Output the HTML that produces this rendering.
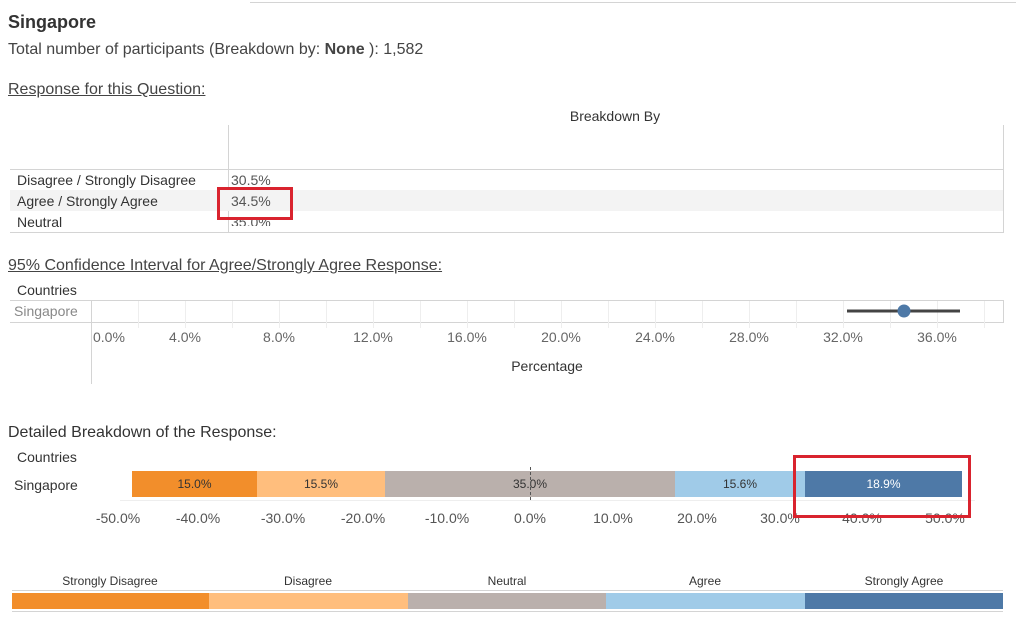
<!DOCTYPE html>
<html><head><meta charset="utf-8"><style>
body{margin:0;width:1016px;height:620px;background:#fff;position:relative;overflow:hidden;font-family:"Liberation Sans",sans-serif;color:#333}
.a{position:absolute;white-space:nowrap}
.l{position:absolute;background:#d4d4d4}
.c{transform:translateX(-50%)}
.tk{font-size:14px;color:#666;top:329px}
.bt{font-size:14px;color:#555;top:510px}
.seg{position:absolute;top:471px;height:26px;font-size:12px;text-align:center;line-height:26px;color:#333}
.lg{position:absolute;top:593px;height:16px}
.ll{font-size:12px;top:574px;color:#333}
</style></head><body>
<div class="l" style="left:250px;top:2px;width:766px;height:1px"></div>
<div class="a" style="left:8px;top:12px;font-size:18px;font-weight:bold;color:#333">Singapore</div>
<div class="a" style="left:8px;top:41px;font-size:16px;color:#444">Total number of participants (Breakdown by: <b>None</b> ): 1,582</div>
<div class="a" style="left:8px;top:81px;font-size:16px;color:#444;text-decoration:underline">Response for this Question:</div>
<div class="a c" style="left:615px;top:108px;font-size:14px">Breakdown By</div>
<div class="l" style="left:228px;top:125px;width:1px;height:108px"></div>
<div class="l" style="left:1003px;top:125px;width:1px;height:108px"></div>
<div class="l" style="left:10px;top:169px;width:994px;height:1px"></div>
<div class="l" style="left:10px;top:232px;width:994px;height:1px"></div>
<div style="position:absolute;left:10px;top:190px;width:993px;height:21px;background:#f3f3f3"></div>
<div class="a" style="left:17px;top:172px;font-size:14px">Disagree / Strongly Disagree</div>
<div class="a" style="left:17px;top:193px;font-size:14px">Agree / Strongly Agree</div>
<div class="a" style="left:17px;top:214px;font-size:14px">Neutral</div>
<div class="a" style="left:231px;top:172px;font-size:14px;color:#555">30.5%</div>
<div class="a" style="left:231px;top:193px;font-size:14px;color:#555">34.5%</div>
<div class="a" style="left:231px;top:214px;font-size:14px;color:#555;height:12px;overflow:hidden;line-height:16px">35.0%</div>
<div style="position:absolute;left:217px;top:187px;width:70px;height:27px;border:3px solid #d9232e"></div>
<div class="a" style="left:8px;top:257px;font-size:16px;color:#444;text-decoration:underline">95% Confidence Interval for Agree/Strongly Agree Response:</div>
<div class="a" style="left:17px;top:282px;font-size:14px">Countries</div>
<div class="l" style="left:10px;top:300px;width:994px;height:1px"></div>
<div class="l" style="left:10px;top:322px;width:994px;height:1px"></div>
<div class="l" style="left:1003px;top:300px;width:1px;height:23px"></div>
<div class="l" style="left:91px;top:300px;width:1px;height:84px"></div>
<div class="a" style="left:14px;top:303px;font-size:14px;color:#888">Singapore</div>
<svg style="position:absolute;left:0;top:0" width="1016" height="620">
<g stroke="#eee" stroke-width="1">
<line x1="138.5" y1="301" x2="138.5" y2="328"/><line x1="185.5" y1="301" x2="185.5" y2="328"/><line x1="232.5" y1="301" x2="232.5" y2="328"/><line x1="279.5" y1="301" x2="279.5" y2="328"/><line x1="326.5" y1="301" x2="326.5" y2="328"/><line x1="373.5" y1="301" x2="373.5" y2="328"/><line x1="420.5" y1="301" x2="420.5" y2="328"/><line x1="467.5" y1="301" x2="467.5" y2="328"/><line x1="514.5" y1="301" x2="514.5" y2="328"/><line x1="561.5" y1="301" x2="561.5" y2="328"/><line x1="608.5" y1="301" x2="608.5" y2="328"/><line x1="655.5" y1="301" x2="655.5" y2="328"/><line x1="702.5" y1="301" x2="702.5" y2="328"/><line x1="749.5" y1="301" x2="749.5" y2="328"/><line x1="796.5" y1="301" x2="796.5" y2="328"/><line x1="843.5" y1="301" x2="843.5" y2="328"/><line x1="890.5" y1="301" x2="890.5" y2="328"/><line x1="937.5" y1="301" x2="937.5" y2="328"/><line x1="984.5" y1="301" x2="984.5" y2="328"/>
</g>
<line x1="847" y1="311" x2="960" y2="311" stroke="#444" stroke-width="3"/>
<circle cx="904" cy="311" r="6.5" fill="#4e79a7"/>
<line x1="120" y1="500.5" x2="975" y2="500.5" stroke="#eee"/>
<line x1="530.5" y1="467" x2="530.5" y2="501" stroke="#555" stroke-dasharray="3,3"/>
</svg>
<div class="a tk" style="left:93px">0.0%</div>
<div class="a tk c" style="left:185px">4.0%</div>
<div class="a tk c" style="left:279px">8.0%</div>
<div class="a tk c" style="left:373px">12.0%</div>
<div class="a tk c" style="left:467px">16.0%</div>
<div class="a tk c" style="left:561px">20.0%</div>
<div class="a tk c" style="left:655px">24.0%</div>
<div class="a tk c" style="left:749px">28.0%</div>
<div class="a tk c" style="left:843px">32.0%</div>
<div class="a tk c" style="left:937px">36.0%</div>
<div class="a c" style="left:547px;top:358px;font-size:14px">Percentage</div>
<div class="a" style="left:8px;top:424px;font-size:16px;color:#333">Detailed Breakdown of the Response:</div>
<div class="a" style="left:17px;top:449px;font-size:14px">Countries</div>
<div class="a" style="left:14px;top:477px;font-size:14px">Singapore</div>
<div class="seg" style="left:132px;width:125px;background:#f28e2b">15.0%</div>
<div class="seg" style="left:257px;width:128px;background:#ffbe7d">15.5%</div>
<div class="seg" style="left:385px;width:290px;background:#bab0ac;background:rgba(186,176,172,1)">35.0%</div>
<div class="seg" style="left:675px;width:130px;background:#a0cbe8">15.6%</div>
<div class="seg" style="left:805px;width:157px;background:#4e79a7;color:#fff">18.9%</div>
<div style="position:absolute;left:530px;top:467px;width:0;height:33px;border-left:1px dashed #555"></div>
<div class="a bt c" style="left:118px">-50.0%</div>
<div class="a bt c" style="left:198px">-40.0%</div>
<div class="a bt c" style="left:283px">-30.0%</div>
<div class="a bt c" style="left:363px">-20.0%</div>
<div class="a bt c" style="left:447px">-10.0%</div>
<div class="a bt c" style="left:530px">0.0%</div>
<div class="a bt c" style="left:613px">10.0%</div>
<div class="a bt c" style="left:697px">20.0%</div>
<div class="a bt c" style="left:780px">30.0%</div>
<div class="a bt c" style="left:862px">40.0%</div>
<div class="a bt c" style="left:945px">50.0%</div>
<div style="position:absolute;left:793px;top:455px;width:172px;height:57px;border:3px solid #d9232e"></div>
<div class="a ll c" style="left:110px">Strongly Disagree</div>
<div class="a ll c" style="left:308px">Disagree</div>
<div class="a ll c" style="left:507px">Neutral</div>
<div class="a ll c" style="left:705px">Agree</div>
<div class="a ll c" style="left:904px">Strongly Agree</div>
<div class="l" style="left:12px;top:590px;width:991px;height:1px"></div>
<div class="l" style="left:12px;top:611px;width:991px;height:1px"></div>
<div class="lg" style="left:12px;width:197px;background:#f28e2b"></div>
<div class="lg" style="left:209px;width:199px;background:#ffbe7d"></div>
<div class="lg" style="left:408px;width:198px;background:#bab0ac"></div>
<div class="lg" style="left:606px;width:199px;background:#a0cbe8"></div>
<div class="lg" style="left:805px;width:198px;background:#4e79a7"></div>
</body></html>
